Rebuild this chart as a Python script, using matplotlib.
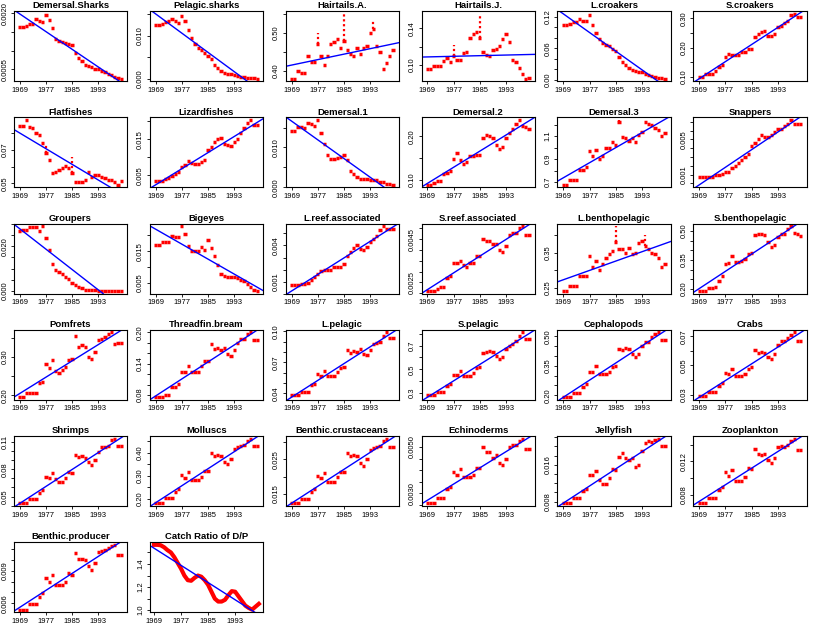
import numpy as np
import matplotlib
matplotlib.use("Agg")
import matplotlib.pyplot as plt
from matplotlib.ticker import FixedLocator, MultipleLocator

# annual values 1969..2000
years = np.arange(1969, 2001)
x_ticks = [1969, 1977, 1985, 1993]

demersal_sharks = [0.00164, 0.00164, 0.00166, 0.00171, 0.00172, 0.00184, 0.00180, 0.00176,
                   0.00196, 0.00182, 0.00160, 0.00132, 0.00125, 0.00122, 0.00120, 0.00119,
                   0.00115, 0.00095, 0.00080, 0.00072, 0.00062, 0.00058, 0.00055, 0.00052,
                   0.00050, 0.00046, 0.00042, 0.00038, 0.00034, 0.00030, 0.00027, 0.00025]
pelagic_sharks = [0.0125, 0.0125, 0.0127, 0.0133, 0.0135, 0.0140, 0.0135, 0.0130,
                  0.0146, 0.0135, 0.0113, 0.0095, 0.0080, 0.0072, 0.0066, 0.0060,
                  0.0054, 0.0045, 0.0033, 0.0025, 0.0018, 0.0014, 0.0011, 0.0010,
                  0.0008, 0.0006, 0.0004, 0.0003, 0.0002, 0.0001, 0.0001, 0.0000]
hairtails_a = [0.38, 0.38, 0.40, 0.395, 0.395, 0.44, 0.425, 0.425,
               0.47, 0.44, 0.415, 0.44, 0.47, 0.475, 0.485, 0.46,
               0.48, 0.455, 0.445, 0.44, 0.46, 0.445, 0.46, 0.465,
               0.50, 0.51, 0.465, 0.45, 0.405, 0.42, 0.44, 0.455]
hairtails_j = [0.096, 0.096, 0.099, 0.099, 0.099, 0.104, 0.108, 0.103,
               0.110, 0.106, 0.106, 0.113, 0.114, 0.130, 0.134, 0.136,
               0.130, 0.114, 0.111, 0.110, 0.116, 0.117, 0.121, 0.128,
               0.134, 0.125, 0.105, 0.103, 0.097, 0.090, 0.085, 0.086]
l_croakers = [0.105, 0.105, 0.106, 0.110, 0.111, 0.117, 0.113, 0.112,
              0.123, 0.105, 0.089, 0.077, 0.070, 0.067, 0.065, 0.058,
              0.055, 0.043, 0.034, 0.028, 0.022, 0.018, 0.016, 0.015,
              0.014, 0.011, 0.009, 0.007, 0.006, 0.004, 0.003, 0.002]
s_croakers = [0.102, 0.102, 0.110, 0.110, 0.112, 0.120, 0.133, 0.140,
              0.167, 0.180, 0.175, 0.175, 0.176, 0.184, 0.186, 0.195,
              0.197, 0.235, 0.247, 0.252, 0.258, 0.240, 0.240, 0.247,
              0.270, 0.275, 0.284, 0.292, 0.310, 0.315, 0.303, 0.305]
flatfishes = [0.0847, 0.0847, 0.0880, 0.0837, 0.0830, 0.0805, 0.0790, 0.0740,
              0.0680, 0.0637, 0.0560, 0.0570, 0.0580, 0.0590, 0.0605, 0.0590,
              0.0560, 0.0510, 0.0506, 0.0506, 0.0520, 0.0570, 0.0540, 0.0550,
              0.0550, 0.0540, 0.0530, 0.0520, 0.0520, 0.0506, 0.0490, 0.0515]
lizardfishes = [0.0034, 0.0034, 0.0034, 0.0039, 0.0043, 0.0048, 0.0054, 0.0059,
                0.0074, 0.0080, 0.0089, 0.0085, 0.0082, 0.0082, 0.0087, 0.0092,
                0.0120, 0.0129, 0.0142, 0.0151, 0.0153, 0.0138, 0.0133, 0.0130,
                0.0142, 0.0151, 0.0168, 0.0181, 0.0194, 0.0203, 0.0190, 0.0190]
demersal_1 = [0.0142, 0.0142, 0.0151, 0.0151, 0.0148, 0.0161, 0.0158, 0.0153,
              0.0169, 0.0136, 0.0110, 0.0080, 0.0072, 0.0072, 0.0073, 0.0076,
              0.0080, 0.0068, 0.0042, 0.0034, 0.0025, 0.0022, 0.0020, 0.0020,
              0.0019, 0.0019, 0.0017, 0.0013, 0.0012, 0.0009, 0.0007, 0.0006]
demersal_2 = [0.089, 0.089, 0.094, 0.098, 0.098, 0.113, 0.115, 0.121,
              0.149, 0.161, 0.145, 0.137, 0.141, 0.155, 0.155, 0.157,
              0.158, 0.196, 0.202, 0.200, 0.196, 0.180, 0.170, 0.176,
              0.196, 0.208, 0.216, 0.228, 0.237, 0.224, 0.220, 0.216]
demersal_3 = [0.677, 0.677, 0.723, 0.723, 0.723, 0.810, 0.810, 0.830,
              0.975, 0.930, 0.984, 0.900, 0.926, 1.000, 1.000, 1.050,
              1.020, 1.220, 1.090, 1.085, 1.054, 1.083, 1.050, 1.106,
              1.135, 1.220, 1.207, 1.193, 1.170, 1.150, 1.100, 1.130]
snappers = [0.00073, 0.00073, 0.00073, 0.00073, 0.00073, 0.00093, 0.00093, 0.0011,
            0.0013, 0.0013, 0.0017, 0.0020, 0.0023, 0.0027, 0.0030, 0.0033,
            0.0043, 0.0046, 0.0051, 0.0055, 0.0053, 0.0053, 0.0055, 0.0058,
            0.0062, 0.0062, 0.0065, 0.0068, 0.0072, 0.0068, 0.0068, 0.0068]
groupers = [0.0267, 0.0274, 0.0274, 0.0284, 0.0284, 0.0284, 0.0270, 0.0289,
            0.0237, 0.0185, 0.0119, 0.0096, 0.0086, 0.0074, 0.0064, 0.0052,
            0.0037, 0.0027, 0.0018, 0.0012, 0.0006, 0.0006, 0.0006, 0.0006,
            0.0000, 0.0000, 0.0000, 0.0000, 0.0000, 0.0000, 0.0000, 0.0000]
bigeyes = [0.0171, 0.0171, 0.0178, 0.0178, 0.0178, 0.0197, 0.0195, 0.0195,
           0.0229, 0.0203, 0.0166, 0.0150, 0.0152, 0.0152, 0.0163, 0.0155,
           0.0187, 0.0160, 0.0134, 0.0108, 0.0078, 0.0072, 0.0070, 0.0070,
           0.0070, 0.0066, 0.0060, 0.0055, 0.0045, 0.0036, 0.0028, 0.0024]
l_reef = [0.00075, 0.00075, 0.00075, 0.0008, 0.0008, 0.0009, 0.0011, 0.0014,
          0.0016, 0.0019, 0.0020, 0.0020, 0.0020, 0.0022, 0.0022, 0.0022,
          0.0025, 0.0031, 0.0035, 0.0038, 0.0040, 0.0037, 0.0036, 0.0039,
          0.0043, 0.0045, 0.0048, 0.0053, 0.0056, 0.0054, 0.0054, 0.0054]
s_reef = [0.0021, 0.0021, 0.0021, 0.0022, 0.0023, 0.0023, 0.0027, 0.0028,
          0.0034, 0.0034, 0.0035, 0.0033, 0.0032, 0.0034, 0.0034, 0.0037,
          0.0037, 0.0045, 0.0044, 0.0044, 0.0043, 0.0043, 0.0040, 0.0039,
          0.0042, 0.0047, 0.0048, 0.0048, 0.0050, 0.0051, 0.0047, 0.0047]
l_bentho = [0.240, 0.240, 0.255, 0.255, 0.255, 0.283, 0.283, 0.283,
            0.340, 0.310, 0.326, 0.300, 0.317, 0.336, 0.345, 0.355,
            0.380, 0.360, 0.360, 0.350, 0.364, 0.345, 0.350, 0.378,
            0.383, 0.370, 0.360, 0.350, 0.345, 0.335, 0.310, 0.317]
s_bentho = [0.190, 0.190, 0.190, 0.207, 0.207, 0.210, 0.242, 0.268,
            0.330, 0.333, 0.373, 0.338, 0.338, 0.347, 0.355, 0.380,
            0.385, 0.477, 0.483, 0.486, 0.477, 0.442, 0.416, 0.425,
            0.469, 0.483, 0.486, 0.512, 0.524, 0.490, 0.483, 0.472]
pomfrets = [0.195, 0.195, 0.205, 0.205, 0.206, 0.206, 0.232, 0.236,
            0.282, 0.270, 0.291, 0.264, 0.259, 0.266, 0.273, 0.291,
            0.295, 0.355, 0.327, 0.330, 0.325, 0.300, 0.295, 0.314,
            0.343, 0.348, 0.352, 0.359, 0.364, 0.334, 0.336, 0.336]
threadfin = [0.076, 0.076, 0.076, 0.081, 0.081, 0.096, 0.096, 0.102,
             0.125, 0.125, 0.136, 0.125, 0.125, 0.125, 0.135, 0.145,
             0.145, 0.177, 0.169, 0.171, 0.167, 0.171, 0.158, 0.154,
             0.167, 0.180, 0.187, 0.187, 0.197, 0.200, 0.186, 0.186]
l_pelagic = [0.0385, 0.0385, 0.0385, 0.0416, 0.0416, 0.0416, 0.0478, 0.0494,
             0.0588, 0.0570, 0.0620, 0.0570, 0.0570, 0.0570, 0.0610, 0.0650,
             0.0656, 0.0820, 0.0790, 0.0810, 0.0800, 0.0830, 0.0780, 0.0775,
             0.0820, 0.0880, 0.0890, 0.0900, 0.0960, 0.0990, 0.0940, 0.0940]
s_pelagic = [0.283, 0.283, 0.283, 0.311, 0.311, 0.311, 0.358, 0.375,
             0.456, 0.456, 0.486, 0.447, 0.447, 0.447, 0.470, 0.511,
             0.520, 0.636, 0.644, 0.653, 0.644, 0.608, 0.589, 0.603,
             0.672, 0.692, 0.714, 0.736, 0.783, 0.810, 0.756, 0.756]
cephalopods = [0.192, 0.192, 0.192, 0.213, 0.213, 0.213, 0.242, 0.259,
               0.318, 0.318, 0.348, 0.310, 0.310, 0.310, 0.318, 0.343,
               0.348, 0.436, 0.433, 0.440, 0.436, 0.410, 0.394, 0.410,
               0.453, 0.470, 0.473, 0.495, 0.512, 0.520, 0.483, 0.483]
crabs = [0.0293, 0.0293, 0.0293, 0.0318, 0.0318, 0.0318, 0.0356, 0.0378,
         0.0451, 0.0444, 0.0478, 0.0429, 0.0429, 0.0429, 0.0444, 0.0478,
         0.0489, 0.0604, 0.0589, 0.0593, 0.0585, 0.0556, 0.0544, 0.0578,
         0.0644, 0.0667, 0.0667, 0.0689, 0.0711, 0.0727, 0.0671, 0.0671]
shrimps = [0.0427, 0.0427, 0.0427, 0.0475, 0.0475, 0.0475, 0.0536, 0.0573,
           0.0718, 0.0707, 0.0762, 0.0689, 0.0664, 0.0664, 0.0700, 0.0773,
           0.0765, 0.0955, 0.0936, 0.0947, 0.0925, 0.0882, 0.0845, 0.0900,
           0.0990, 0.1045, 0.1050, 0.1064, 0.1120, 0.1140, 0.1064, 0.1064]
molluscs = [0.181, 0.181, 0.181, 0.203, 0.203, 0.203, 0.231, 0.243,
            0.303, 0.291, 0.317, 0.281, 0.281, 0.281, 0.296, 0.320,
            0.320, 0.400, 0.386, 0.389, 0.386, 0.360, 0.349, 0.374,
            0.417, 0.424, 0.428, 0.431, 0.449, 0.460, 0.429, 0.429]
benthic_crust = [0.0123, 0.0123, 0.0123, 0.0136, 0.0136, 0.0136, 0.0155, 0.0164,
                 0.0202, 0.0195, 0.0210, 0.0185, 0.0185, 0.0185, 0.0198, 0.0214,
                 0.0214, 0.0269, 0.0260, 0.0262, 0.0258, 0.0240, 0.0231, 0.0250,
                 0.0277, 0.0283, 0.0285, 0.0288, 0.0302, 0.0309, 0.0285, 0.0285]
echinoderms = [0.00257, 0.00257, 0.00257, 0.00279, 0.00279, 0.00279, 0.00319, 0.00329,
               0.00393, 0.00381, 0.00404, 0.00371, 0.00371, 0.00371, 0.00381, 0.00410,
               0.00410, 0.00500, 0.00479, 0.00477, 0.00453, 0.00464, 0.00431, 0.00421,
               0.00450, 0.00500, 0.00510, 0.00510, 0.00524, 0.00536, 0.00493, 0.00493]
jellyfish = [0.0076, 0.0076, 0.0076, 0.0087, 0.0087, 0.0087, 0.0102, 0.0108,
             0.0138, 0.0137, 0.0147, 0.0127, 0.0118, 0.0118, 0.0132, 0.0151,
             0.0149, 0.0178, 0.0185, 0.0175, 0.0171, 0.0175, 0.0156, 0.0160,
             0.0189, 0.0207, 0.0211, 0.0210, 0.0215, 0.0217, 0.0200, 0.0200]
zooplankton = [0.0070, 0.0070, 0.0070, 0.0076, 0.0076, 0.0076, 0.0086, 0.0089,
               0.0107, 0.0103, 0.0110, 0.0097, 0.0097, 0.0097, 0.0102, 0.0112,
               0.0111, 0.0135, 0.0129, 0.0128, 0.0129, 0.0122, 0.0118, 0.0124,
               0.0137, 0.0138, 0.0137, 0.0140, 0.0144, 0.0147, 0.0133, 0.0133]
benthic_prod = [0.0054, 0.0054, 0.0054, 0.0059, 0.0059, 0.0059, 0.0066, 0.0069,
                0.0083, 0.0080, 0.0086, 0.0077, 0.0077, 0.0077, 0.0080, 0.0088,
                0.0086, 0.0106, 0.0101, 0.0101, 0.0100, 0.0094, 0.0091, 0.0097,
                0.0107, 0.0108, 0.0109, 0.0111, 0.0113, 0.0114, 0.0105, 0.0105]
catch_ratio = [1.566, 1.566, 1.562, 1.545, 1.520, 1.500, 1.460, 1.410,
               1.360, 1.300, 1.260, 1.255, 1.280, 1.300, 1.290, 1.260,
               1.220, 1.160, 1.100, 1.075, 1.075, 1.090, 1.130, 1.165,
               1.160, 1.120, 1.080, 1.040, 1.020, 1.005, 1.030, 1.055]

# title, values, labelled y ticks, tick step
panels = [
    ("Demersal.Sharks", demersal_sharks, ["0.0005", "0.0020"], 0.0005),
    ("Pelagic.sharks", pelagic_sharks, ["0.000", "0.010"], 0.005),
    ("Hairtails.A.", hairtails_a, ["0.40", "0.50"], 0.05),
    ("Hairtails.J.", hairtails_j, ["0.10", "0.14"], 0.02),
    ("L.croakers", l_croakers, ["0.00", "0.06", "0.12"], 0.02),
    ("S.croakers", s_croakers, ["0.10", "0.20", "0.30"], 0.05),
    ("Flatfishes", flatfishes, ["0.05", "0.07"], 0.01),
    ("Lizardfishes", lizardfishes, ["0.005", "0.015"], 0.005),
    ("Demersal.1", demersal_1, ["0.000", "0.010"], 0.005),
    ("Demersal.2", demersal_2, ["0.10", "0.20"], 0.05),
    ("Demersal.3", demersal_3, ["0.7", "0.9", "1.1"], 0.1),
    ("Snappers", snappers, ["0.001", "0.005"], 0.001),
    ("Groupers", groupers, ["0.000", "0.020"], 0.005),
    ("Bigeyes", bigeyes, ["0.005", "0.015"], 0.005),
    ("L.reef.associated", l_reef, ["0.001", "0.004"], 0.001),
    ("S.reef.associated", s_reef, ["0.0025", "0.0045"], 0.0005),
    ("L.benthopelagic", l_bentho, ["0.25", "0.35"], 0.05),
    ("S.benthopelagic", s_bentho, ["0.20", "0.35", "0.50"], 0.05),
    ("Pomfrets", pomfrets, ["0.20", "0.30"], 0.05),
    ("Threadfin.bream", threadfin, ["0.08", "0.14", "0.20"], 0.02),
    ("L.pelagic", l_pelagic, ["0.04", "0.07", "0.10"], 0.01),
    ("S.pelagic", s_pelagic, ["0.3", "0.5", "0.7"], 0.1),
    ("Cephalopods", cephalopods, ["0.20", "0.35", "0.50"], 0.05),
    ("Crabs", crabs, ["0.03", "0.05", "0.07"], 0.01),
    ("Shrimps", shrimps, ["0.05", "0.08", "0.11"], 0.01),
    ("Molluscs", molluscs, ["0.20", "0.30", "0.40"], 0.05),
    ("Benthic.crustaceans", benthic_crust, ["0.015", "0.025"], 0.005),
    ("Echinoderms", echinoderms, ["0.0030", "0.0050"], 0.0005),
    ("Jellyfish", jellyfish, ["0.008", "0.016"], 0.002),
    ("Zooplankton", zooplankton, ["0.008", "0.012"], 0.002),
    ("Benthic.producer", benthic_prod, ["0.006", "0.009", "0.012"], 0.001),
    ("Catch Ratio of D/P", catch_ratio, ["1.0", "1.2", "1.4"], 0.1),
]

# short within-year jumps: (year, peak)
spikes = {
    "Hairtails.A.": [(1977, 0.50), (1985, 0.55), (1994, 0.535)],
    "Hairtails.J.": [(1977, 0.122), (1985, 0.156)],
    "Flatfishes": [(1977, 0.073), (1985, 0.066)],
    "Demersal.3": [(1986, 1.24)],
    "L.benthopelagic": [(1985, 0.426), (1994, 0.40)],
}

plt.rcParams["font.family"] = ["Liberation Sans", "DejaVu Sans"]

fig, axes = plt.subplots(6, 6, figsize=(8.14, 6.26), dpi=100)
fig.subplots_adjust(left=0.017, right=0.991, top=0.982, bottom=0.022,
                    wspace=0.2, hspace=0.517)

for ax, (name, vals, ylab, step) in zip(axes.flat, panels):
    vals = np.array(vals)
    if name == "Catch Ratio of D/P":
        ax.plot(years, vals, color="red", lw=3)
    else:
        ax.hlines(vals, years - 0.5, years + 0.5, color="red", lw=2.5)
    for yr, top in spikes.get(name, []):
        v = vals[years == yr][0]
        ax.vlines(yr, v, top, color="red", lw=1.6, linestyles=(0, (1, 1.2)))

    slope, icpt = np.polyfit(years, vals, 1)
    ax.axline((years[0], icpt + slope * years[0]), slope=slope, color="blue", lw=1)
    ax.margins(x=0.04, y=0.04)

    ax.set_title(name, fontsize=6.8, fontweight="bold", pad=2)
    ax.xaxis.set_major_locator(FixedLocator(x_ticks))
    ax.set_xticklabels([str(t) for t in x_ticks])
    ax.yaxis.set_major_locator(FixedLocator([float(s) for s in ylab]))
    ax.set_yticklabels(ylab)
    ax.yaxis.set_minor_locator(MultipleLocator(step))
    ax.tick_params(which="both", labelsize=5.5, length=2.5, width=0.6, pad=1.5)
    ax.tick_params(axis="y", labelrotation=90)
    plt.setp(ax.get_yticklabels(), va="center")
    for sp in ax.spines.values():
        sp.set_linewidth(0.8)

for ax in axes.flat[len(panels):]:
    ax.axis("off")

fig.savefig("out.png", dpi=100)
